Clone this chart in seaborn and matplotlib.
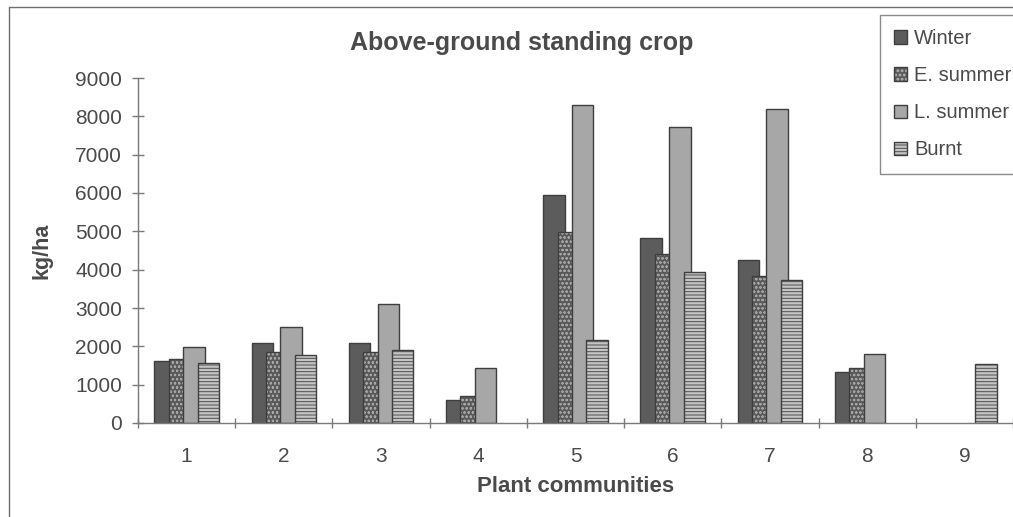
import numpy as np
import pandas as pd
import matplotlib
matplotlib.use("Agg")
import matplotlib.pyplot as plt
from matplotlib.colors import to_rgba
from matplotlib.lines import Line2D
import seaborn as sns

# Above-ground standing crop (kg/ha) per plant community and season
communities = ["1", "2", "3", "4", "5", "6", "7", "8", "9"]
seasons = ["Winter", "E. summer", "L. summer", "Burnt"]
winter = [1620, 2090, 2100, 590, 5950, 4830, 4240, 1330, np.nan]
early_summer = [1670, 1840, 1850, 700, 4970, 4420, 3830, 1440, np.nan]
late_summer = [1990, 2510, 3100, 1430, 8290, 7720, 8190, 1790, np.nan]
burnt = [1570, 1780, 1900, np.nan, 2160, 3950, 3740, np.nan, 1530]
yticks = [0, 1000, 2000, 3000, 4000, 5000, 6000, 7000, 8000, 9000]

series = [winter, early_summer, late_summer, burnt]

# fill, hatch pattern, hatch colour, hatch line width for each season
styles = [
    ("#5c5c5c", "", None, None),
    ("#5a5a5a", "oooo", "#a6a6a6", 0.5),
    ("#a7a7a7", "", None, None),
    ("#c4c4c4", "-----", "#4e4e4e", 0.7),
]
edge = "#3e3e3e"
text_color = "#4a4a4a"
axis_color = "#7a7a7a"

sns.set_theme(style="white")
plt.rcParams["font.family"] = ["Liberation Sans", "DejaVu Sans"]
plt.rcParams["hatch.linewidth"] = 0.7

W, H = 1013, 517
fig = plt.figure(figsize=(W / 100, H / 100), dpi=100)
fig.patch.set_facecolor("white")
ax = fig.add_axes([138 / W, 1 - 423 / H, (W - 138) / W, (423 - 78) / H])

bar_w = 0.22
step = 0.148
handles = []
for i, (name, vals) in enumerate(zip(seasons, series)):
    df = pd.DataFrame({
        "pos": np.arange(len(communities)) + (i - 1.5) * step,
        "value": vals,
    }).dropna()
    n_before = len(ax.patches)
    face, hatch, hcol, hlw = styles[i]
    sns.barplot(data=df, x="pos", y="value", native_scale=True, width=bar_w,
                color=face, saturation=1, edgecolor=edge, linewidth=1.0,
                errorbar=None, ax=ax)
    new = ax.patches[n_before:]
    for p in new:
        if hatch:
            p.set_hatch(hatch)
            if hasattr(p, "set_hatchcolor"):
                p.set_hatchcolor(hcol)
            else:
                p._hatch_color = to_rgba(hcol)
            if hasattr(p, "set_hatch_linewidth"):
                p.set_hatch_linewidth(hlw)
    handles.append(new[0])

ax.set_xlim(-0.5, len(communities) - 0.5)
ax.set_ylim(0, 9000)
ax.set_yticks(yticks)
ax.set_yticklabels([str(v) for v in yticks])
ax.set_xticks(np.arange(len(communities)))
ax.set_xticklabels(communities)
ax.set_xticks(np.arange(len(communities) + 1) - 0.5, minor=True)

ax.tick_params(axis="y", which="major", direction="inout", length=8.6,
               width=1, color=axis_color, pad=7.2, labelsize=15,
               labelcolor=text_color, left=True)
ax.tick_params(axis="x", which="major", length=0, pad=17, labelsize=15,
               labelcolor=text_color)
ax.tick_params(axis="x", which="minor", direction="inout", length=7.5,
               width=1, color=axis_color, bottom=True)

for side in ("top", "right"):
    ax.spines[side].set_visible(False)
for side in ("left", "bottom"):
    ax.spines[side].set_color(axis_color)
    ax.spines[side].set_linewidth(1)
ax.grid(False)

ax.set_xlabel("Plant communities", fontsize=16, fontweight="bold",
              color=text_color)
ax.xaxis.set_label_coords(0.5, -(492 - 423) / 345)
ax.xaxis.label.set_va("baseline")
ax.set_ylabel("kg/ha", fontsize=15.5, fontweight="bold", color=text_color)
ax.yaxis.set_label_coords((42 - 138) / (W - 138), 0.5)
ax.yaxis.label.set_va("center")

fig.text(522 / W, 1 - 50 / H, "Above-ground standing crop", ha="center",
         va="baseline", fontsize=18, fontweight="bold", color=text_color)

leg = fig.legend(handles, seasons, loc="upper left",
                 bbox_to_anchor=(880 / W, 1 - 15 / H),
                 bbox_transform=fig.transFigure, frameon=True, fancybox=False,
                 edgecolor="#6e6e6e", fontsize=14.5, handlelength=0.65,
                 handleheight=0.65, handletextpad=0.35, labelspacing=0.9,
                 borderaxespad=0, borderpad=0.7)
leg.get_frame().set_linewidth(1)
for t in leg.get_texts():
    t.set_color(text_color)

# outer chart frame (left and top edges)
frame_kw = dict(transform=fig.transFigure, color="#6e6e6e", lw=1)
fig.add_artist(Line2D([9 / W, 9 / W], [0, 1 - 7 / H], **frame_kw))
fig.add_artist(Line2D([9 / W, 1], [1 - 7 / H, 1 - 7 / H], **frame_kw))

fig.savefig("out.png", dpi=100, facecolor="white")
